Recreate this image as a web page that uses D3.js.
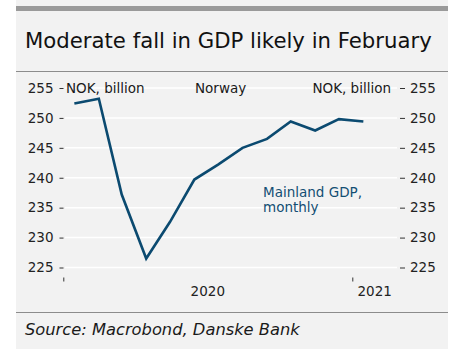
<!DOCTYPE html>
<html>
<head>
<meta charset="utf-8">
<script src="https://cdn.jsdelivr.net/npm/d3@7"></script>
<style>
  html, body { margin: 0; padding: 0; background: #ffffff; }
  svg { display: block; }
  text { font-family: "DejaVu Sans", sans-serif; }
</style>
</head>
<body>
<svg id="chart" width="452" height="349"></svg>
<script>
// ---- Data ----
const months = ["2020-01","2020-02","2020-03","2020-04","2020-05","2020-06","2020-07",
                "2020-08","2020-09","2020-10","2020-11","2020-12","2021-01"];
const gdp = [252.4, 253.2, 237.2, 226.5, 232.6, 239.7, 242.2,
             245.0, 246.5, 249.4, 247.9, 249.8, 249.4];
const yTicks = [225, 230, 235, 240, 245, 250, 255];
const xYears = ["2020", "2021"];
const title = "Moderate fall in GDP likely in February";
const source = "Source: Macrobond, Danske Bank";
const unitLabel = "NOK, billion";
const countryLabel = "Norway";
const seriesLabel = ["Mainland GDP,", "monthly"];

// ---- Layout ----
const W = 452, H = 349;
const panel = {x0: 16, x1: 448};
const plot = {left: 63.3, right: 397, top: 80, bottom: 276};

const svg = d3.select("#chart");
const parse = d3.timeParse("%Y-%m");
const dates = months.map(m => d3.timeDay.offset(parse(m), 14));

// panel background
svg.append("rect").attr("x", panel.x0).attr("y", 0)
  .attr("width", panel.x1 - panel.x0).attr("height", H).attr("fill", "#f2f2f2");
// top bar
svg.append("rect").attr("x", panel.x0).attr("y", 6)
  .attr("width", panel.x1 - panel.x0).attr("height", 5).attr("fill", "#9a9a9a");

// title
const t = svg.append("text").attr("x", 25).attr("y", 48)
  .attr("font-family", "Roboto, 'DejaVu Sans', sans-serif").attr("font-weight", 500)
  .attr("font-size", 20).attr("fill", "#111").text(title);
const tw = t.node().getComputedTextLength();
t.attr("font-size", 20 * 407 / tw);

// separators
svg.append("line").attr("x1", panel.x0).attr("x2", panel.x1)
  .attr("y1", 71.5).attr("y2", 71.5).attr("stroke", "#8c8c8c").attr("stroke-width", 1);
svg.append("line").attr("x1", panel.x0).attr("x2", panel.x1)
  .attr("y1", 312.5).attr("y2", 312.5).attr("stroke", "#8c8c8c").attr("stroke-width", 1);

// scales
const x = d3.scaleTime()
  .domain([new Date(2020, 0, 1), new Date(2021, 0, 1)])
  .range([63.3, 352.3]);
const y = d3.scaleLinear().domain([225, 255]).range([267.5, 88]);

// gridlines
svg.append("g").selectAll("line").data(yTicks).join("line")
  .attr("x1", 65).attr("x2", plot.right)
  .attr("y1", d => y(d)).attr("y2", d => y(d))
  .attr("stroke", "#ffffff").attr("stroke-width", 1.5);

// left axis
const yl = svg.append("g").attr("transform", `translate(${63.5},0)`)
  .call(d3.axisLeft(y).tickValues(yTicks).tickSize(4).tickPadding(6).tickFormat(d3.format("d")));
// right axis
const yr = svg.append("g").attr("transform", `translate(${400},0)`)
  .call(d3.axisRight(y).tickValues(yTicks).tickSize(5).tickPadding(5).tickFormat(d3.format("d")));
[yl, yr].forEach(g => {
  g.select(".domain").remove();
  g.selectAll(".tick line").attr("stroke", "#333").attr("stroke-width", 1);
  g.selectAll(".tick text").attr("font-size", 13.5).attr("fill", "#222")
    .attr("font-family", "DejaVu Sans, sans-serif");
});

// x axis ticks (year boundaries)
const yearDates = xYears.map(s => new Date(+s, 0, 1));
const xa = svg.append("g").attr("transform", `translate(0,${277.5})`)
  .call(d3.axisBottom(x).tickValues(yearDates).tickSize(4).tickFormat(""));
xa.select(".domain").remove();
xa.selectAll(".tick line").attr("stroke", "#333");
// x labels centred in visible part of each year
xYears.forEach((s, i) => {
  const a = x(new Date(+s, 0, 1));
  const b = Math.min(x(new Date(+s + 1, 0, 1)), plot.right);
  svg.append("text").attr("x", (a + b) / 2).attr("y", 296)
    .attr("text-anchor", "middle").attr("font-size", 13.5).attr("fill", "#222").text(s);
});

// line
const line = d3.line().x((d, i) => x(dates[i])).y(d => y(d));
svg.append("path").datum(gdp).attr("d", line)
  .attr("fill", "none").attr("stroke", "#0b4a70").attr("stroke-width", 2.6)
  .attr("stroke-linejoin", "miter");

// labels
svg.append("text").attr("x", 66).attr("y", 93).attr("font-size", 13.5)
  .attr("fill", "#1a1a1a").text(unitLabel);
svg.append("text").attr("x", 391).attr("y", 93).attr("font-size", 13.5)
  .attr("text-anchor", "end").attr("fill", "#1a1a1a").text(unitLabel);
svg.append("text").attr("x", 195).attr("y", 93).attr("font-size", 13.5)
  .attr("fill", "#1a1a1a").text(countryLabel);
seriesLabel.forEach((s, i) => {
  svg.append("text").attr("x", 263).attr("y", 197 + i * 15).attr("font-size", 13.5)
    .attr("fill", "#124e73").text(s);
});

// source
const st = svg.append("text").attr("x", 25).attr("y", 335).attr("font-size", 15)
  .attr("font-style", "italic").attr("fill", "#1a1a1a").text(source);
const sw = st.node().getComputedTextLength();
st.attr("font-size", 15 * 275 / sw);
</script>
</body>
</html>
